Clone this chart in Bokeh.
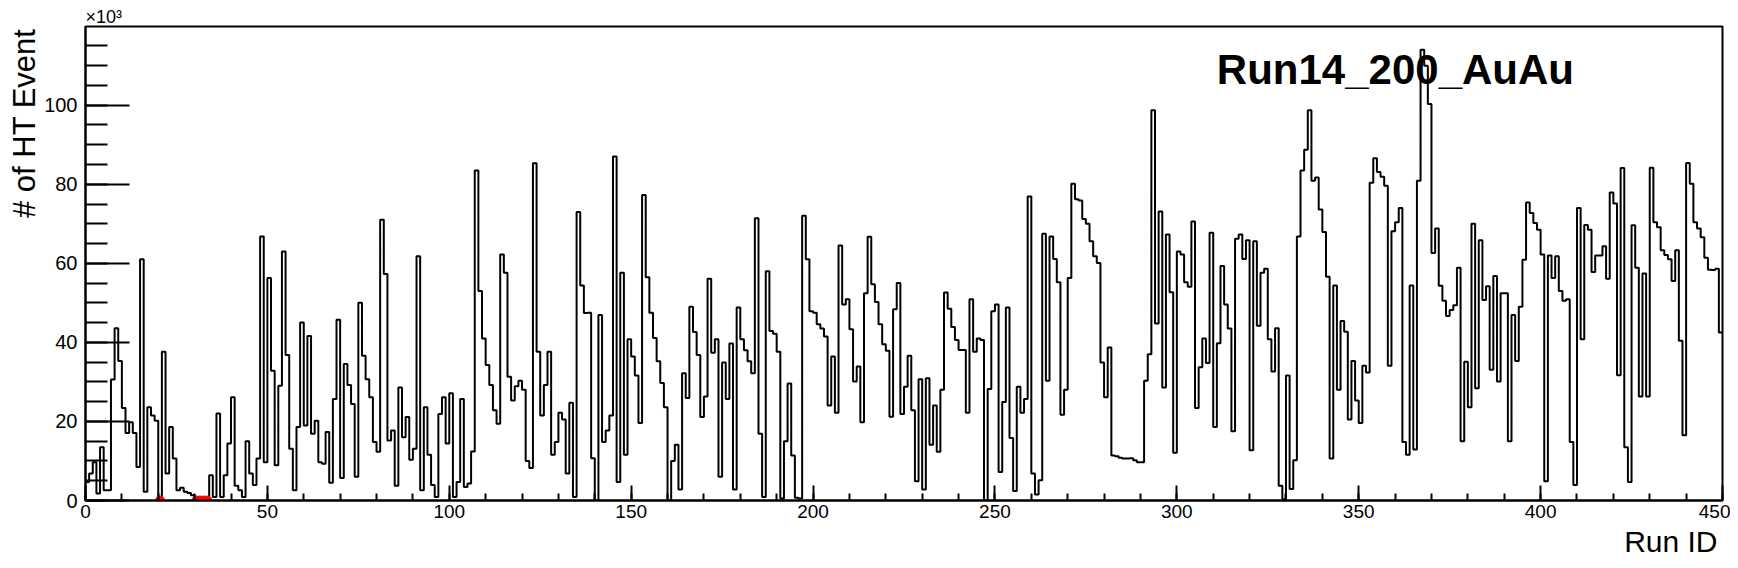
from bokeh.plotting import figure
from bokeh.models import Range1d, SingleIntervalTicker, Label, Title
from bokeh.embed import file_html
from bokeh.resources import INLINE

# number of HT events per run (in units of 10^3), one value per Run ID bin 0..449
ht_events_k = [
    4.7, 6.8, 9.7, 1.8, 13.5, 2.6, 2.6, 30.6, 43.6, 35.3,
    23.4, 17.1, 19.8, 17.1, 8.5, 61.0, 2.2, 23.6, 21.5, 20.2,
    0.0, 37.6, 6.8, 18.6, 10.6, 2.6, 3.2, 2.2, 1.9, 1.3,
    0.0, 0.0, 0.0, 0.0, 6.4, 0.9, 22.0, 0.9, 6.4, 14.4,
    26.1, 3.7, 2.6, 0.9, 15.0, 6.8, 3.9, 10.6, 66.8, 9.7,
    56.3, 32.8, 8.9, 29.0, 63.0, 36.8, 13.1, 2.6, 18.6, 45.0,
    19.0, 41.6, 16.9, 20.2, 9.7, 9.3, 17.3, 4.5, 25.7, 45.7,
    5.7, 34.5, 29.2, 24.4, 6.0, 50.0, 36.6, 30.7, 26.1, 14.8,
    12.3, 71.0, 57.3, 15.2, 17.7, 3.7, 28.6, 16.0, 21.1, 10.3,
    13.1, 61.8, 2.6, 23.6, 11.6, 3.9, 0.9, 21.9, 26.1, 14.4,
    27.1, 0.9, 4.7, 25.7, 3.4, 4.3, 12.4, 83.5, 53.0, 41.0,
    34.3, 29.2, 22.8, 19.4, 62.2, 57.6, 31.3, 25.3, 28.9, 30.3,
    28.0, 10.0, 8.2, 85.3, 37.6, 21.5, 29.2, 37.6, 11.6, 14.8,
    22.2, 20.5, 6.8, 24.7, 0.9, 73.0, 54.4, 47.4, 47.5, 10.7,
    0.0, 46.9, 14.8, 17.7, 21.5, 87.0, 4.7, 57.6, 11.6, 40.8,
    36.4, 31.6, 19.6, 77.3, 56.5, 47.5, 41.1, 35.2, 29.7, 23.6,
    0.0, 10.0, 14.1, 2.8, 32.2, 25.9, 49.0, 42.6, 36.8, 21.1,
    26.3, 56.1, 37.4, 40.8, 6.0, 34.9, 25.7, 39.7, 2.8, 48.8,
    40.8, 38.0, 35.2, 32.2, 71.4, 16.9, 0.9, 58.0, 42.9, 42.2,
    37.6, 0.5, 15.0, 29.6, 11.4, 0.7, 0.5, 72.0, 61.0, 47.9,
    47.5, 44.6, 43.5, 41.5, 24.0, 36.4, 22.2, 64.5, 49.6, 50.9,
    43.3, 30.1, 33.9, 19.8, 52.4, 66.7, 54.7, 50.2, 44.6, 39.5,
    37.9, 21.2, 48.4, 55.0, 21.9, 28.8, 36.6, 22.8, 4.9, 30.7,
    2.8, 30.9, 14.1, 24.0, 12.3, 28.0, 52.6, 48.5, 43.9, 40.6,
    38.1, 38.1, 22.2, 50.9, 37.6, 41.0, 40.6, 0.0, 28.2, 47.9,
    49.6, 7.2, 24.9, 48.8, 15.8, 2.4, 28.8, 22.2, 25.7, 76.9,
    6.8, 1.5, 5.1, 67.5, 30.3, 66.8, 61.1, 55.2, 21.7, 28.0,
    56.3, 80.1, 76.2, 75.9, 71.2, 70.0, 65.6, 61.8, 60.1, 34.9,
    26.1, 38.7, 11.4, 11.2, 10.8, 10.6, 10.6, 10.7, 10.2, 9.7,
    9.7, 30.3, 37.0, 98.7, 44.8, 73.1, 28.6, 67.3, 52.7, 12.1,
    63.0, 62.2, 55.2, 54.1, 70.6, 23.4, 33.7, 41.0, 34.8, 67.7,
    18.6, 39.8, 59.3, 49.6, 43.5, 17.5, 66.2, 67.3, 61.1, 65.8,
    12.7, 65.6, 44.2, 57.6, 58.6, 40.8, 32.6, 43.6, 3.7, 0.3,
    31.6, 2.9, 10.2, 66.8, 83.5, 88.7, 98.7, 80.9, 81.7, 73.6,
    67.9, 56.6, 10.6, 54.4, 28.0, 45.4, 42.7, 20.5, 35.3, 25.3,
    19.6, 34.1, 32.4, 80.4, 86.6, 83.1, 81.9, 79.6, 34.1, 68.1,
    70.4, 74.0, 14.8, 11.6, 54.4, 12.9, 80.9, 114.0, 110.0, 100.3,
    62.6, 68.8, 54.3, 50.5, 46.7, 48.2, 49.4, 58.9, 15.0, 35.1,
    23.6, 70.0, 28.4, 65.8, 50.7, 54.2, 33.1, 56.8, 30.1, 52.4,
    52.4, 15.0, 46.9, 35.3, 49.0, 60.9, 75.4, 72.7, 70.2, 68.5,
    62.2, 4.9, 62.0, 56.3, 61.8, 53.0, 50.5, 50.9, 14.8, 3.9,
    74.0, 40.8, 69.7, 68.5, 57.8, 62.0, 62.0, 64.3, 56.1, 77.9,
    75.1, 31.7, 84.1, 13.5, 4.7, 69.6, 58.9, 26.3, 57.4, 26.3,
    84.2, 70.4, 69.1, 63.3, 62.1, 61.0, 55.5, 63.3, 40.4, 16.5,
    85.4, 80.1, 70.4, 68.8, 66.6, 61.4, 58.4, 58.3, 58.6, 42.5,
]

# runs flagged (red markers on the axis)
bad_runs = [20, 30, 31, 32, 33]
bad_vals = [0.0, 0.0, 0.0, 0.0, 0.0]

x_ticks_major = 50
y_ticks_major = 20

n_bins = len(ht_events_k)
edges = list(range(n_bins + 1))
step_y = ht_events_k + [ht_events_k[-1]]

FONT = "Liberation Sans"

p = figure(width=1730, height=560, title=None,
           x_range=Range1d(0, 450), y_range=Range1d(0, 119.9),
           output_backend="svg", toolbar_location=None,
           min_border_left=85, min_border_right=8,
           min_border_top=26, min_border_bottom=58)

p.xgrid.visible = False
p.ygrid.visible = False
p.outline_line_color = "black"
p.outline_line_width = 2
p.background_fill_color = "white"
p.border_fill_color = "white"

xa = p.xaxis[0]
xa.ticker = SingleIntervalTicker(interval=x_ticks_major, num_minor_ticks=5)
xa.major_tick_in = 15
xa.major_tick_out = 0
xa.minor_tick_in = 7
xa.minor_tick_out = 0
xa.axis_line_width = 2
xa.major_tick_line_width = 2
xa.minor_tick_line_width = 2
xa.major_label_text_font = FONT
xa.major_label_text_font_size = "19px"
xa.major_label_text_color = "black"
xa.major_label_standoff = 4

ya = p.yaxis[0]
ya.ticker = SingleIntervalTicker(interval=y_ticks_major, num_minor_ticks=4)
ya.major_tick_in = 44
ya.major_tick_out = 0
ya.minor_tick_in = 22
ya.minor_tick_out = 0
ya.axis_line_width = 2
ya.major_tick_line_width = 2
ya.minor_tick_line_width = 2
ya.major_label_text_font = FONT
ya.major_label_text_font_size = "20px"
ya.major_label_text_color = "black"
ya.major_label_standoff = 8

p.step(x=edges, y=step_y, mode="after", line_color="black", line_width=2)
p.scatter(x=[b + 0.5 for b in bad_runs], y=bad_vals, size=9,
          fill_color="red", line_color="red")

p.add_layout(Label(x=311, y=109, text="Run14_200_AuAu", text_font=FONT,
                   text_font_style="bold", text_font_size="42px",
                   text_color="black", text_baseline="alphabetic"))

p.add_layout(Title(text="# of HT Event", align="right", text_font=FONT,
                   text_font_size="31px", text_font_style="normal",
                   text_color="black", standoff=0, offset=2), "left")
p.add_layout(Title(text="Run ID", align="right", text_font=FONT,
                   text_font_size="30px", text_font_style="normal",
                   text_color="black", standoff=5, offset=5), "below")
p.add_layout(Title(text="×10³", align="left", text_font=FONT,
                   text_font_size="18px", text_font_style="normal",
                   text_color="black", standoff=0, offset=0), "above")

open("out.html", "w").write(file_html(p, INLINE))
